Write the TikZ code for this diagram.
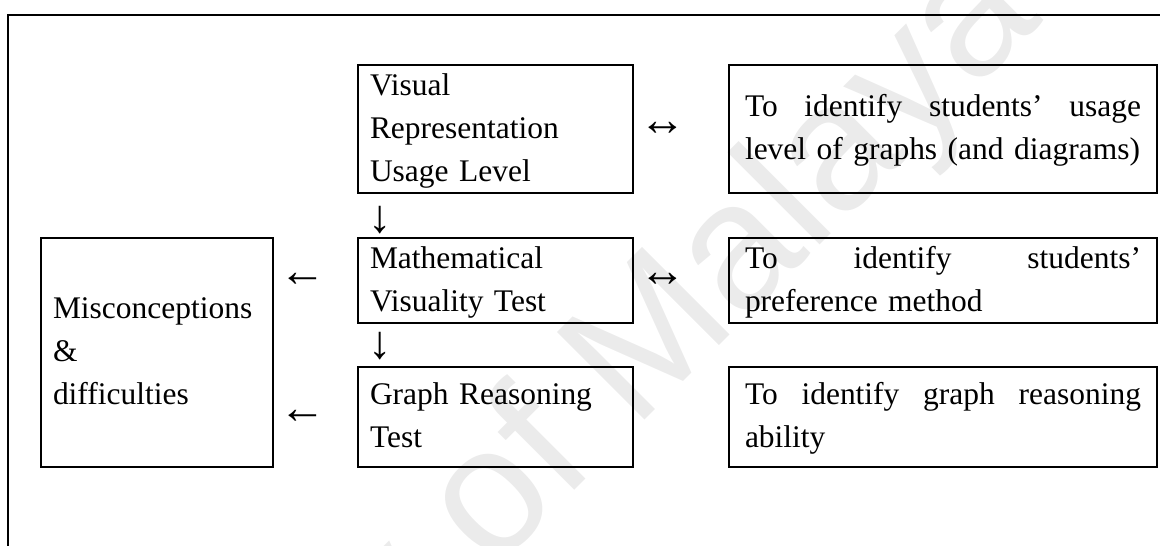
\documentclass[tikz,border=0pt]{standalone}
\usepackage{fontspec}
\setmainfont{Liberation Serif}
\newfontfamily\marksans{Liberation Sans}
\newcommand\bodysize{\fontsize{23.6pt}{32.25pt}\selectfont}
\newcommand\signsize{\fontsize{35pt}{35pt}\selectfont}
% fixed strut so that every block of lines sits the same way in its box
\newcommand\linestrut{\rule[-8pt]{0pt}{30pt}}
% a line spread over the full text width, as in justified text
\newcommand\spreadline[1]{\hbox to 297pt{#1}}
\begin{document}
\begin{tikzpicture}[x=0.75pt,y=-0.75pt,
  frameline/.style={line width=1.5pt},
  textbox/.style={draw, line width=1.5pt, inner ysep=0pt,
    font=\bodysize, execute at begin node=\linestrut,
    execute at end node=\linestrut},
  stagebox/.style={textbox, inner xsep=9pt, text width=188.25pt, minimum width=206.25pt},
  aimbox/.style={textbox, inner xsep=12pt, text width=297pt, minimum width=321pt},
  issuebox/.style={textbox, inner xsep=9pt, text width=156pt, minimum width=174pt},
  glyph/.style={inner sep=0pt, font=\signsize},
  watermark/.style={rotate=45, anchor=base east, inner sep=0pt, text=black!8,
    font=\marksans\fontsize{135pt}{135pt}\selectfont}
]
\useasboundingbox (0,0) rectangle (1160,546);

% faint background lettering
\begin{scope}
  \clip (0,0) rectangle (1160,546);
  \node[watermark] (wm) at (1045,20) {University of Malaya};
\end{scope}

% outer frame
\draw[frameline] (8,546) -- (8,15) -- (1160,15);

% instruments
\node[stagebox, minimum height=96pt] (vrul) at (495.5,129)
  {Visual\\Representation\\Usage Level};
\node[stagebox, minimum height=63.75pt] (mvt) at (495.5,280.5)
  {Mathematical\\Visuality Test};
\node[stagebox, minimum height=75pt] (grt) at (495.5,417)
  {Graph Reasoning\\Test};

% outcome
\node[issuebox, minimum height=171.75pt] (misc) at (157,352.5)
  {Misconceptions\\\&\\difficulties};

% aims
\node[aimbox, minimum height=96pt] (aim1) at (943,129)
  {\spreadline{To\hfill identify\hfill students’\hfill usage}\\level of graphs (and diagrams)};
\node[aimbox, minimum height=63.75pt] (aim2) at (943,280.5)
  {\spreadline{To\hfill identify\hfill students’}\\preference method};
\node[aimbox, minimum height=75pt] (aim3) at (943,417)
  {\spreadline{To\hfill identify\hfill graph\hfill reasoning}\\ability};

% arrow signs
\node[glyph] (lr1) at (663,129) {↔};
\node[glyph] (lr2) at (663,280) {↔};
\node[glyph] (dn1) at (380,220) {↓};
\node[glyph] (dn2) at (380,346) {↓};
\node[glyph] (lt1) at (303,280) {←};
\node[glyph] (lt2) at (303,417) {←};
\end{tikzpicture}
\end{document}
